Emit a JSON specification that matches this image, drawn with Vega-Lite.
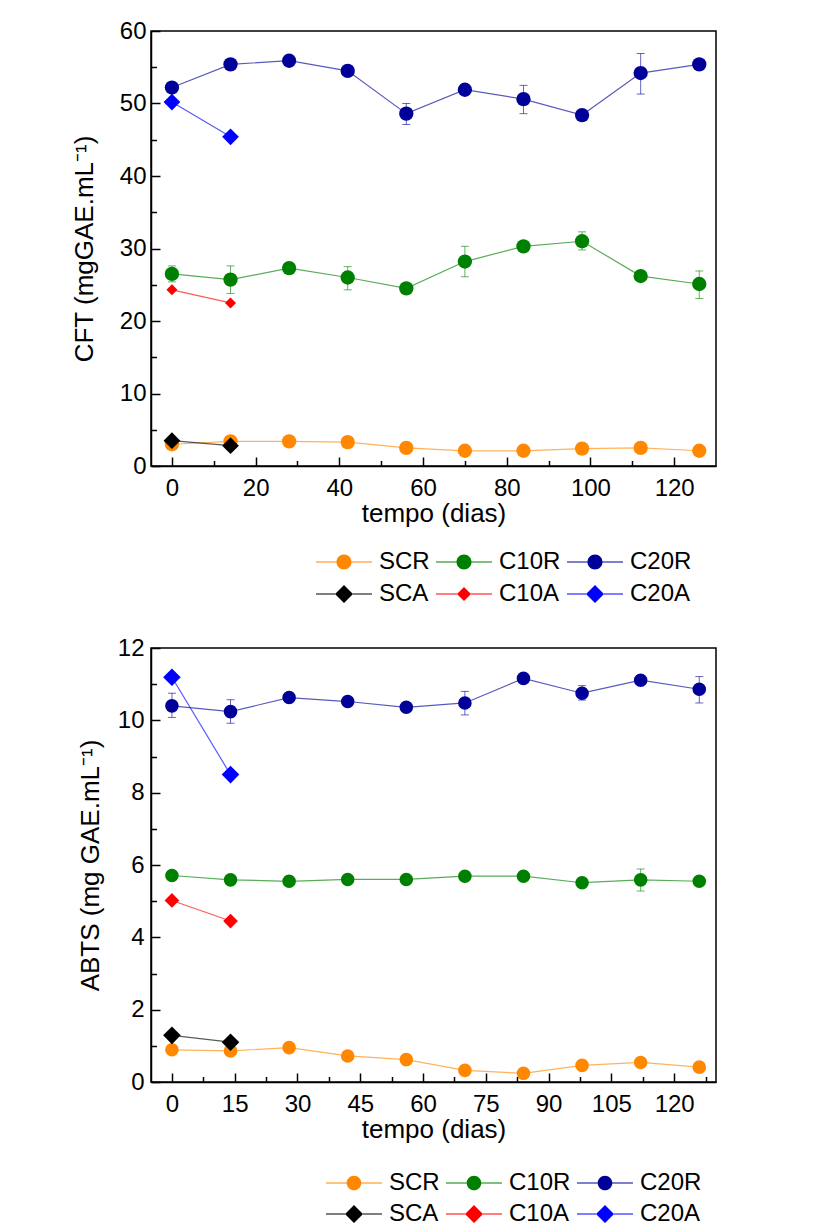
{
  "$schema": "https://vega.github.io/schema/vega-lite/v6.json",
  "padding": {"left": 70, "top": 18, "right": 5, "bottom": 0},
  "spacing": 28,
  "config": {
    "font": "Liberation Sans",
    "view": {"stroke": "#000", "strokeWidth": 1.5},
    "axis": {
      "labelFont": "Liberation Sans", "titleFont": "Liberation Sans",
      "labelFontSize": 24, "titleFontSize": 26, "titleFontWeight": "normal",
      "labelColor": "#000", "titleColor": "#000",
      "domainColor": "#000", "domainWidth": 1.5,
      "tickColor": "#000", "tickWidth": 1.5, "grid": false
    }
  },
  "datasets": {
    "cft": [
      {"series": "SCR", "t": 0, "v": 3.0}, {"series": "SCR", "t": 14, "v": 3.4}, {"series": "SCR", "t": 28, "v": 3.4}, {"series": "SCR", "t": 42, "v": 3.3}, {"series": "SCR", "t": 56, "v": 2.5}, {"series": "SCR", "t": 70, "v": 2.1}, {"series": "SCR", "t": 84, "v": 2.1}, {"series": "SCR", "t": 98, "v": 2.4}, {"series": "SCR", "t": 112, "v": 2.5}, {"series": "SCR", "t": 126, "v": 2.1},
      {"series": "C10R", "t": 0, "v": 26.5}, {"series": "C10R", "t": 14, "v": 25.7}, {"series": "C10R", "t": 28, "v": 27.3}, {"series": "C10R", "t": 42, "v": 26.0}, {"series": "C10R", "t": 56, "v": 24.5}, {"series": "C10R", "t": 70, "v": 28.2}, {"series": "C10R", "t": 84, "v": 30.3}, {"series": "C10R", "t": 98, "v": 31.0}, {"series": "C10R", "t": 112, "v": 26.2}, {"series": "C10R", "t": 126, "v": 25.1},
      {"series": "C20R", "t": 0, "v": 52.2}, {"series": "C20R", "t": 14, "v": 55.4}, {"series": "C20R", "t": 28, "v": 55.9}, {"series": "C20R", "t": 42, "v": 54.5}, {"series": "C20R", "t": 56, "v": 48.6}, {"series": "C20R", "t": 70, "v": 51.9}, {"series": "C20R", "t": 84, "v": 50.6}, {"series": "C20R", "t": 98, "v": 48.4}, {"series": "C20R", "t": 112, "v": 54.2}, {"series": "C20R", "t": 126, "v": 55.4},
      {"series": "SCA", "t": 0, "v": 3.5}, {"series": "SCA", "t": 14, "v": 2.8},
      {"series": "C10A", "t": 0, "v": 24.3}, {"series": "C10A", "t": 14, "v": 22.5},
      {"series": "C20A", "t": 0, "v": 50.2}, {"series": "C20A", "t": 14, "v": 45.4}
    ],
    "cft_err": [
      {"series": "C10R", "t": 0, "lo": 25.4, "hi": 27.6},
      {"series": "C10R", "t": 14, "lo": 23.8, "hi": 27.6},
      {"series": "C10R", "t": 42, "lo": 24.3, "hi": 27.5},
      {"series": "C10R", "t": 70, "lo": 26.1, "hi": 30.3},
      {"series": "C10R", "t": 98, "lo": 29.8, "hi": 32.3},
      {"series": "C10R", "t": 126, "lo": 23.1, "hi": 26.9},
      {"series": "C20R", "t": 56, "lo": 47.1, "hi": 50.0},
      {"series": "C20R", "t": 84, "lo": 48.6, "hi": 52.5},
      {"series": "C20R", "t": 112, "lo": 51.3, "hi": 56.9}
    ],
    "abts": [
      {"series": "SCR", "t": 0, "v": 0.89}, {"series": "SCR", "t": 14, "v": 0.86}, {"series": "SCR", "t": 28, "v": 0.95}, {"series": "SCR", "t": 42, "v": 0.72}, {"series": "SCR", "t": 56, "v": 0.62}, {"series": "SCR", "t": 70, "v": 0.32}, {"series": "SCR", "t": 84, "v": 0.24}, {"series": "SCR", "t": 98, "v": 0.46}, {"series": "SCR", "t": 112, "v": 0.54}, {"series": "SCR", "t": 126, "v": 0.41},
      {"series": "C10R", "t": 0, "v": 5.71}, {"series": "C10R", "t": 14, "v": 5.59}, {"series": "C10R", "t": 28, "v": 5.55}, {"series": "C10R", "t": 42, "v": 5.60}, {"series": "C10R", "t": 56, "v": 5.60}, {"series": "C10R", "t": 70, "v": 5.69}, {"series": "C10R", "t": 84, "v": 5.69}, {"series": "C10R", "t": 98, "v": 5.51}, {"series": "C10R", "t": 112, "v": 5.59}, {"series": "C10R", "t": 126, "v": 5.55},
      {"series": "C20R", "t": 0, "v": 10.40}, {"series": "C20R", "t": 14, "v": 10.24}, {"series": "C20R", "t": 28, "v": 10.63}, {"series": "C20R", "t": 42, "v": 10.52}, {"series": "C20R", "t": 56, "v": 10.36}, {"series": "C20R", "t": 70, "v": 10.48}, {"series": "C20R", "t": 84, "v": 11.16}, {"series": "C20R", "t": 98, "v": 10.75}, {"series": "C20R", "t": 112, "v": 11.11}, {"series": "C20R", "t": 126, "v": 10.86},
      {"series": "SCA", "t": 0, "v": 1.29}, {"series": "SCA", "t": 14, "v": 1.10},
      {"series": "C10A", "t": 0, "v": 5.02}, {"series": "C10A", "t": 14, "v": 4.45},
      {"series": "C20A", "t": 0, "v": 11.19}, {"series": "C20A", "t": 14, "v": 8.50}
    ],
    "abts_err": [
      {"series": "C20R", "t": 0, "lo": 10.08, "hi": 10.75},
      {"series": "C20R", "t": 14, "lo": 9.92, "hi": 10.57},
      {"series": "C20R", "t": 70, "lo": 10.15, "hi": 10.80},
      {"series": "C20R", "t": 98, "lo": 10.56, "hi": 10.96},
      {"series": "C20R", "t": 126, "lo": 10.48, "hi": 11.21},
      {"series": "C10R", "t": 112, "lo": 5.28, "hi": 5.89}
    ]
  },
  "resolve": {
    "scale": {"color": "independent", "shape": "independent"},
    "legend": {"color": "independent", "shape": "independent"}
  },
  "vconcat": [
    {
      "width": 565, "height": 435,
      "resolve": {"axis": {"x": "independent", "y": "independent"}, "scale": {"color": "independent", "shape": "independent"}},
      "layer": [
        {
          "data": {"name": "cft_err"},
          "mark": {"type": "rule", "strokeWidth": 1, "opacity": 0.6},
          "encoding": {
            "x": {"field": "t", "type": "quantitative", "scale": {"domain": [-5, 130], "nice": false, "zero": false}, "axis": null},
            "y": {"field": "lo", "type": "quantitative", "scale": {"domain": [0, 60], "nice": false}, "axis": null},
            "y2": {"field": "hi"},
            "color": {"field": "series", "type": "nominal", "scale": {"domain": ["SCR", "C10R", "C20R", "SCA", "C10A", "C20A"], "range": ["#FF8800", "#008000", "#000099", "#000000", "#FF0000", "#0000FF"]}, "legend": null}
          }
        },
        {
          "data": {"name": "cft_err"},
          "mark": {"type": "tick", "orient": "horizontal", "size": 8, "thickness": 1, "opacity": 0.6},
          "encoding": {
            "x": {"field": "t", "type": "quantitative", "axis": null},
            "y": {"field": "lo", "type": "quantitative", "axis": null},
            "color": {"field": "series", "type": "nominal", "scale": {"domain": ["SCR", "C10R", "C20R", "SCA", "C10A", "C20A"], "range": ["#FF8800", "#008000", "#000099", "#000000", "#FF0000", "#0000FF"]}, "legend": null}
          }
        },
        {
          "data": {"name": "cft_err"},
          "mark": {"type": "tick", "orient": "horizontal", "size": 8, "thickness": 1, "opacity": 0.6},
          "encoding": {
            "x": {"field": "t", "type": "quantitative", "axis": null},
            "y": {"field": "hi", "type": "quantitative", "axis": null},
            "color": {"field": "series", "type": "nominal", "scale": {"domain": ["SCR", "C10R", "C20R", "SCA", "C10A", "C20A"], "range": ["#FF8800", "#008000", "#000099", "#000000", "#FF0000", "#0000FF"]}, "legend": null}
          }
        },
        {
          "data": {"name": "cft"},
          "mark": {"type": "line", "strokeWidth": 1.2, "opacity": 0.65},
          "encoding": {
            "x": {"field": "t", "type": "quantitative", "axis": null},
            "y": {"field": "v", "type": "quantitative", "axis": null},
            "color": {"field": "series", "type": "nominal", "scale": {"domain": ["SCR", "C10R", "C20R", "SCA", "C10A", "C20A"], "range": ["#FF8800", "#008000", "#000099", "#000000", "#FF0000", "#0000FF"]}, "legend": null}
          }
        },
        {
          "data": {"name": "cft"},
          "transform": [{"filter": {"field": "series", "oneOf": ["SCR", "C10R", "C20R"]}}],
          "mark": {"type": "point", "shape": "circle", "filled": true, "opacity": 1, "size": 205, "strokeWidth": 0},
          "encoding": {
            "x": {"field": "t", "type": "quantitative", "axis": {"orient": "bottom", "values": [0, 20, 40, 60, 80, 100, 120], "tickSize": -9, "labelPadding": 19, "title": "tempo (dias)", "titlePadding": 0}},
            "y": {"field": "v", "type": "quantitative", "axis": {"orient": "left", "values": [0, 10, 20, 30, 40, 50, 60], "tickSize": -9, "labelPadding": 14, "title": "CFT (mgGAE.mL⁻¹)", "titlePadding": 22}},
            "color": {"field": "series", "type": "nominal", "scale": {"domain": ["SCR", "C10R", "C20R", "SCA", "C10A", "C20A"], "range": ["#FF8800", "#008000", "#000099", "#000000", "#FF0000", "#0000FF"]}, "legend": null}
          }
        },
        {
          "data": {"name": "cft"},
          "transform": [{"filter": {"field": "series", "oneOf": ["SCA", "C10A", "C20A"]}}],
          "mark": {"type": "point", "shape": "diamond", "filled": true, "opacity": 1, "strokeWidth": 0},
          "encoding": {
            "x": {"field": "t", "type": "quantitative", "axis": null},
            "y": {"field": "v", "type": "quantitative", "axis": null},
            "color": {"field": "series", "type": "nominal", "scale": {"domain": ["SCR", "C10R", "C20R", "SCA", "C10A", "C20A"], "range": ["#FF8800", "#008000", "#000099", "#000000", "#FF0000", "#0000FF"]}, "legend": null},
            "size": {"condition": {"test": "datum.series === 'C10A'", "value": 121}, "value": 280}
          }
        },
        {
          "data": {"name": "cft"},
          "transform": [{"filter": "false"}],
          "mark": {"type": "point", "filled": true, "opacity": 1, "size": 400, "strokeWidth": 0},
          "encoding": {
            "x": {"field": "t", "type": "quantitative", "axis": {"orient": "bottom", "values": [10, 30, 50, 70, 90, 110], "tickSize": -5.5, "labels": false, "domain": false, "title": null}},
            "y": {"field": "v", "type": "quantitative", "axis": {"orient": "left", "values": [5, 15, 25, 35, 45, 55], "tickSize": -5.5, "labels": false, "domain": false, "title": null}},
            "color": {"field": "series", "type": "nominal",
              "scale": {"domain": ["SCR", "C10R", "C20R", "SCA", "C10A", "C20A"], "range": ["#FF8800", "#008000", "#000099", "#000000", "#FF0000", "#0000FF"]},
              "legend": {"orient": "none", "direction": "horizontal", "legendX": 181, "legendY": 519, "columns": 3, "title": null, "labelFontSize": 24, "labelFont": "Liberation Sans", "labelColor": "#000", "symbolSize": 400, "labelOffset": 23, "columnPadding": 6, "rowPadding": 8, "symbolStrokeWidth": 0, "padding": 0, "labelLimit": 300}},
            "shape": {"field": "series", "type": "nominal",
              "scale": {"domain": ["SCR", "C10R", "C20R", "SCA", "C10A", "C20A"],
                "range": [
                  "M-2.8,-0.06L-0.75,-0.06L-0.75,0.06L-2.8,0.06Z M0.75,-0.06L2.8,-0.06L2.8,0.06L0.75,0.06Z M-0.75,0A0.75,0.75 0 1,1 0.75,0A0.75,0.75 0 1,1 -0.75,0Z",
                  "M-2.8,-0.06L-0.75,-0.06L-0.75,0.06L-2.8,0.06Z M0.75,-0.06L2.8,-0.06L2.8,0.06L0.75,0.06Z M-0.75,0A0.75,0.75 0 1,1 0.75,0A0.75,0.75 0 1,1 -0.75,0Z",
                  "M-2.8,-0.06L-0.75,-0.06L-0.75,0.06L-2.8,0.06Z M0.75,-0.06L2.8,-0.06L2.8,0.06L0.75,0.06Z M-0.75,0A0.75,0.75 0 1,1 0.75,0A0.75,0.75 0 1,1 -0.75,0Z",
                  "M-2.8,-0.06L-0.9,-0.06L-0.9,0.06L-2.8,0.06Z M0.9,-0.06L2.8,-0.06L2.8,0.06L0.9,0.06Z M0,-0.9L0.9,0L0,0.9L-0.9,0Z",
                  "M-2.8,-0.06L-0.7,-0.06L-0.7,0.06L-2.8,0.06Z M0.7,-0.06L2.8,-0.06L2.8,0.06L0.7,0.06Z M0,-0.7L0.7,0L0,0.7L-0.7,0Z",
                  "M-2.8,-0.06L-0.9,-0.06L-0.9,0.06L-2.8,0.06Z M0.9,-0.06L2.8,-0.06L2.8,0.06L0.9,0.06Z M0,-0.9L0.9,0L0,0.9L-0.9,0Z"
                ]},
              "legend": {"orient": "none", "direction": "horizontal", "legendX": 181, "legendY": 519, "columns": 3, "title": null, "labelFontSize": 24, "labelFont": "Liberation Sans", "labelColor": "#000", "symbolSize": 400, "labelOffset": 23, "columnPadding": 6, "rowPadding": 8, "symbolStrokeWidth": 0, "padding": 0, "labelLimit": 300}}
          }
        }
      ]
    },
    {
      "width": 565, "height": 434,
      "resolve": {"axis": {"x": "independent", "y": "independent"}, "scale": {"color": "independent", "shape": "independent"}},
      "layer": [
        {
          "data": {"name": "abts_err"},
          "mark": {"type": "rule", "strokeWidth": 1, "opacity": 0.6},
          "encoding": {
            "x": {"field": "t", "type": "quantitative", "scale": {"domain": [-5, 130], "nice": false, "zero": false}, "axis": null},
            "y": {"field": "lo", "type": "quantitative", "scale": {"domain": [0, 12], "nice": false}, "axis": null},
            "y2": {"field": "hi"},
            "color": {"field": "series", "type": "nominal", "scale": {"domain": ["SCR", "C10R", "C20R", "SCA", "C10A", "C20A"], "range": ["#FF8800", "#008000", "#000099", "#000000", "#FF0000", "#0000FF"]}, "legend": null}
          }
        },
        {
          "data": {"name": "abts_err"},
          "mark": {"type": "tick", "orient": "horizontal", "size": 8, "thickness": 1, "opacity": 0.6},
          "encoding": {
            "x": {"field": "t", "type": "quantitative", "axis": null},
            "y": {"field": "lo", "type": "quantitative", "axis": null},
            "color": {"field": "series", "type": "nominal", "scale": {"domain": ["SCR", "C10R", "C20R", "SCA", "C10A", "C20A"], "range": ["#FF8800", "#008000", "#000099", "#000000", "#FF0000", "#0000FF"]}, "legend": null}
          }
        },
        {
          "data": {"name": "abts_err"},
          "mark": {"type": "tick", "orient": "horizontal", "size": 8, "thickness": 1, "opacity": 0.6},
          "encoding": {
            "x": {"field": "t", "type": "quantitative", "axis": null},
            "y": {"field": "hi", "type": "quantitative", "axis": null},
            "color": {"field": "series", "type": "nominal", "scale": {"domain": ["SCR", "C10R", "C20R", "SCA", "C10A", "C20A"], "range": ["#FF8800", "#008000", "#000099", "#000000", "#FF0000", "#0000FF"]}, "legend": null}
          }
        },
        {
          "data": {"name": "abts"},
          "mark": {"type": "line", "strokeWidth": 1.2, "opacity": 0.65},
          "encoding": {
            "x": {"field": "t", "type": "quantitative", "axis": null},
            "y": {"field": "v", "type": "quantitative", "axis": null},
            "color": {"field": "series", "type": "nominal", "scale": {"domain": ["SCR", "C10R", "C20R", "SCA", "C10A", "C20A"], "range": ["#FF8800", "#008000", "#000099", "#000000", "#FF0000", "#0000FF"]}, "legend": null}
          }
        },
        {
          "data": {"name": "abts"},
          "transform": [{"filter": {"field": "series", "oneOf": ["SCR", "C10R", "C20R"]}}],
          "mark": {"type": "point", "shape": "circle", "filled": true, "opacity": 1, "size": 185, "strokeWidth": 0},
          "encoding": {
            "x": {"field": "t", "type": "quantitative", "axis": {"orient": "bottom", "values": [0, 15, 30, 45, 60, 75, 90, 105, 120], "tickSize": -9, "labelPadding": 19, "title": "tempo (dias)", "titlePadding": 0}},
            "y": {"field": "v", "type": "quantitative", "axis": {"orient": "left", "values": [0, 2, 4, 6, 8, 10, 12], "tickSize": -9, "labelPadding": 16, "title": "ABTS (mg GAE.mL⁻¹)", "titlePadding": 14}},
            "color": {"field": "series", "type": "nominal", "scale": {"domain": ["SCR", "C10R", "C20R", "SCA", "C10A", "C20A"], "range": ["#FF8800", "#008000", "#000099", "#000000", "#FF0000", "#0000FF"]}, "legend": null}
          }
        },
        {
          "data": {"name": "abts"},
          "transform": [{"filter": {"field": "series", "oneOf": ["SCA", "C10A", "C20A"]}}],
          "mark": {"type": "point", "shape": "diamond", "filled": true, "opacity": 1, "strokeWidth": 0},
          "encoding": {
            "x": {"field": "t", "type": "quantitative", "axis": null},
            "y": {"field": "v", "type": "quantitative", "axis": null},
            "color": {"field": "series", "type": "nominal", "scale": {"domain": ["SCR", "C10R", "C20R", "SCA", "C10A", "C20A"], "range": ["#FF8800", "#008000", "#000099", "#000000", "#FF0000", "#0000FF"]}, "legend": null},
            "size": {"condition": {"test": "datum.series === 'C10A'", "value": 216}, "value": 310}
          }
        },
        {
          "data": {"name": "abts"},
          "transform": [{"filter": "false"}],
          "mark": {"type": "point", "filled": true, "opacity": 1, "size": 400, "strokeWidth": 0},
          "encoding": {
            "x": {"field": "t", "type": "quantitative", "axis": {"orient": "bottom", "values": [7.5, 22.5, 37.5, 52.5, 67.5, 82.5, 97.5, 112.5, 127.5], "tickSize": -5.5, "labels": false, "domain": false, "title": null}},
            "y": {"field": "v", "type": "quantitative", "axis": {"orient": "left", "values": [1, 3, 5, 7, 9, 11], "tickSize": -5.5, "labels": false, "domain": false, "title": null}},
            "color": {"field": "series", "type": "nominal",
              "scale": {"domain": ["SCR", "C10R", "C20R", "SCA", "C10A", "C20A"], "range": ["#FF8800", "#008000", "#000099", "#000000", "#FF0000", "#0000FF"]},
              "legend": {"orient": "none", "direction": "horizontal", "legendX": 191, "legendY": 523, "columns": 3, "title": null, "labelFontSize": 24, "labelFont": "Liberation Sans", "labelColor": "#000", "symbolSize": 400, "labelOffset": 23, "columnPadding": 6, "rowPadding": 7, "symbolStrokeWidth": 0, "padding": 0, "labelLimit": 300}},
            "shape": {"field": "series", "type": "nominal",
              "scale": {"domain": ["SCR", "C10R", "C20R", "SCA", "C10A", "C20A"],
                "range": [
                  "M-2.8,-0.06L-0.73,-0.06L-0.73,0.06L-2.8,0.06Z M0.73,-0.06L2.8,-0.06L2.8,0.06L0.73,0.06Z M-0.73,0A0.73,0.73 0 1,1 0.73,0A0.73,0.73 0 1,1 -0.73,0Z",
                  "M-2.8,-0.06L-0.73,-0.06L-0.73,0.06L-2.8,0.06Z M0.73,-0.06L2.8,-0.06L2.8,0.06L0.73,0.06Z M-0.73,0A0.73,0.73 0 1,1 0.73,0A0.73,0.73 0 1,1 -0.73,0Z",
                  "M-2.8,-0.06L-0.73,-0.06L-0.73,0.06L-2.8,0.06Z M0.73,-0.06L2.8,-0.06L2.8,0.06L0.73,0.06Z M-0.73,0A0.73,0.73 0 1,1 0.73,0A0.73,0.73 0 1,1 -0.73,0Z",
                  "M-2.8,-0.06L-0.9,-0.06L-0.9,0.06L-2.8,0.06Z M0.9,-0.06L2.8,-0.06L2.8,0.06L0.9,0.06Z M0,-0.9L0.9,0L0,0.9L-0.9,0Z",
                  "M-2.8,-0.06L-0.9,-0.06L-0.9,0.06L-2.8,0.06Z M0.9,-0.06L2.8,-0.06L2.8,0.06L0.9,0.06Z M0,-0.9L0.9,0L0,0.9L-0.9,0Z",
                  "M-2.8,-0.06L-0.9,-0.06L-0.9,0.06L-2.8,0.06Z M0.9,-0.06L2.8,-0.06L2.8,0.06L0.9,0.06Z M0,-0.9L0.9,0L0,0.9L-0.9,0Z"
                ]},
              "legend": {"orient": "none", "direction": "horizontal", "legendX": 191, "legendY": 523, "columns": 3, "title": null, "labelFontSize": 24, "labelFont": "Liberation Sans", "labelColor": "#000", "symbolSize": 400, "labelOffset": 23, "columnPadding": 6, "rowPadding": 7, "symbolStrokeWidth": 0, "padding": 0, "labelLimit": 300}}
          }
        }
      ]
    }
  ]
}
